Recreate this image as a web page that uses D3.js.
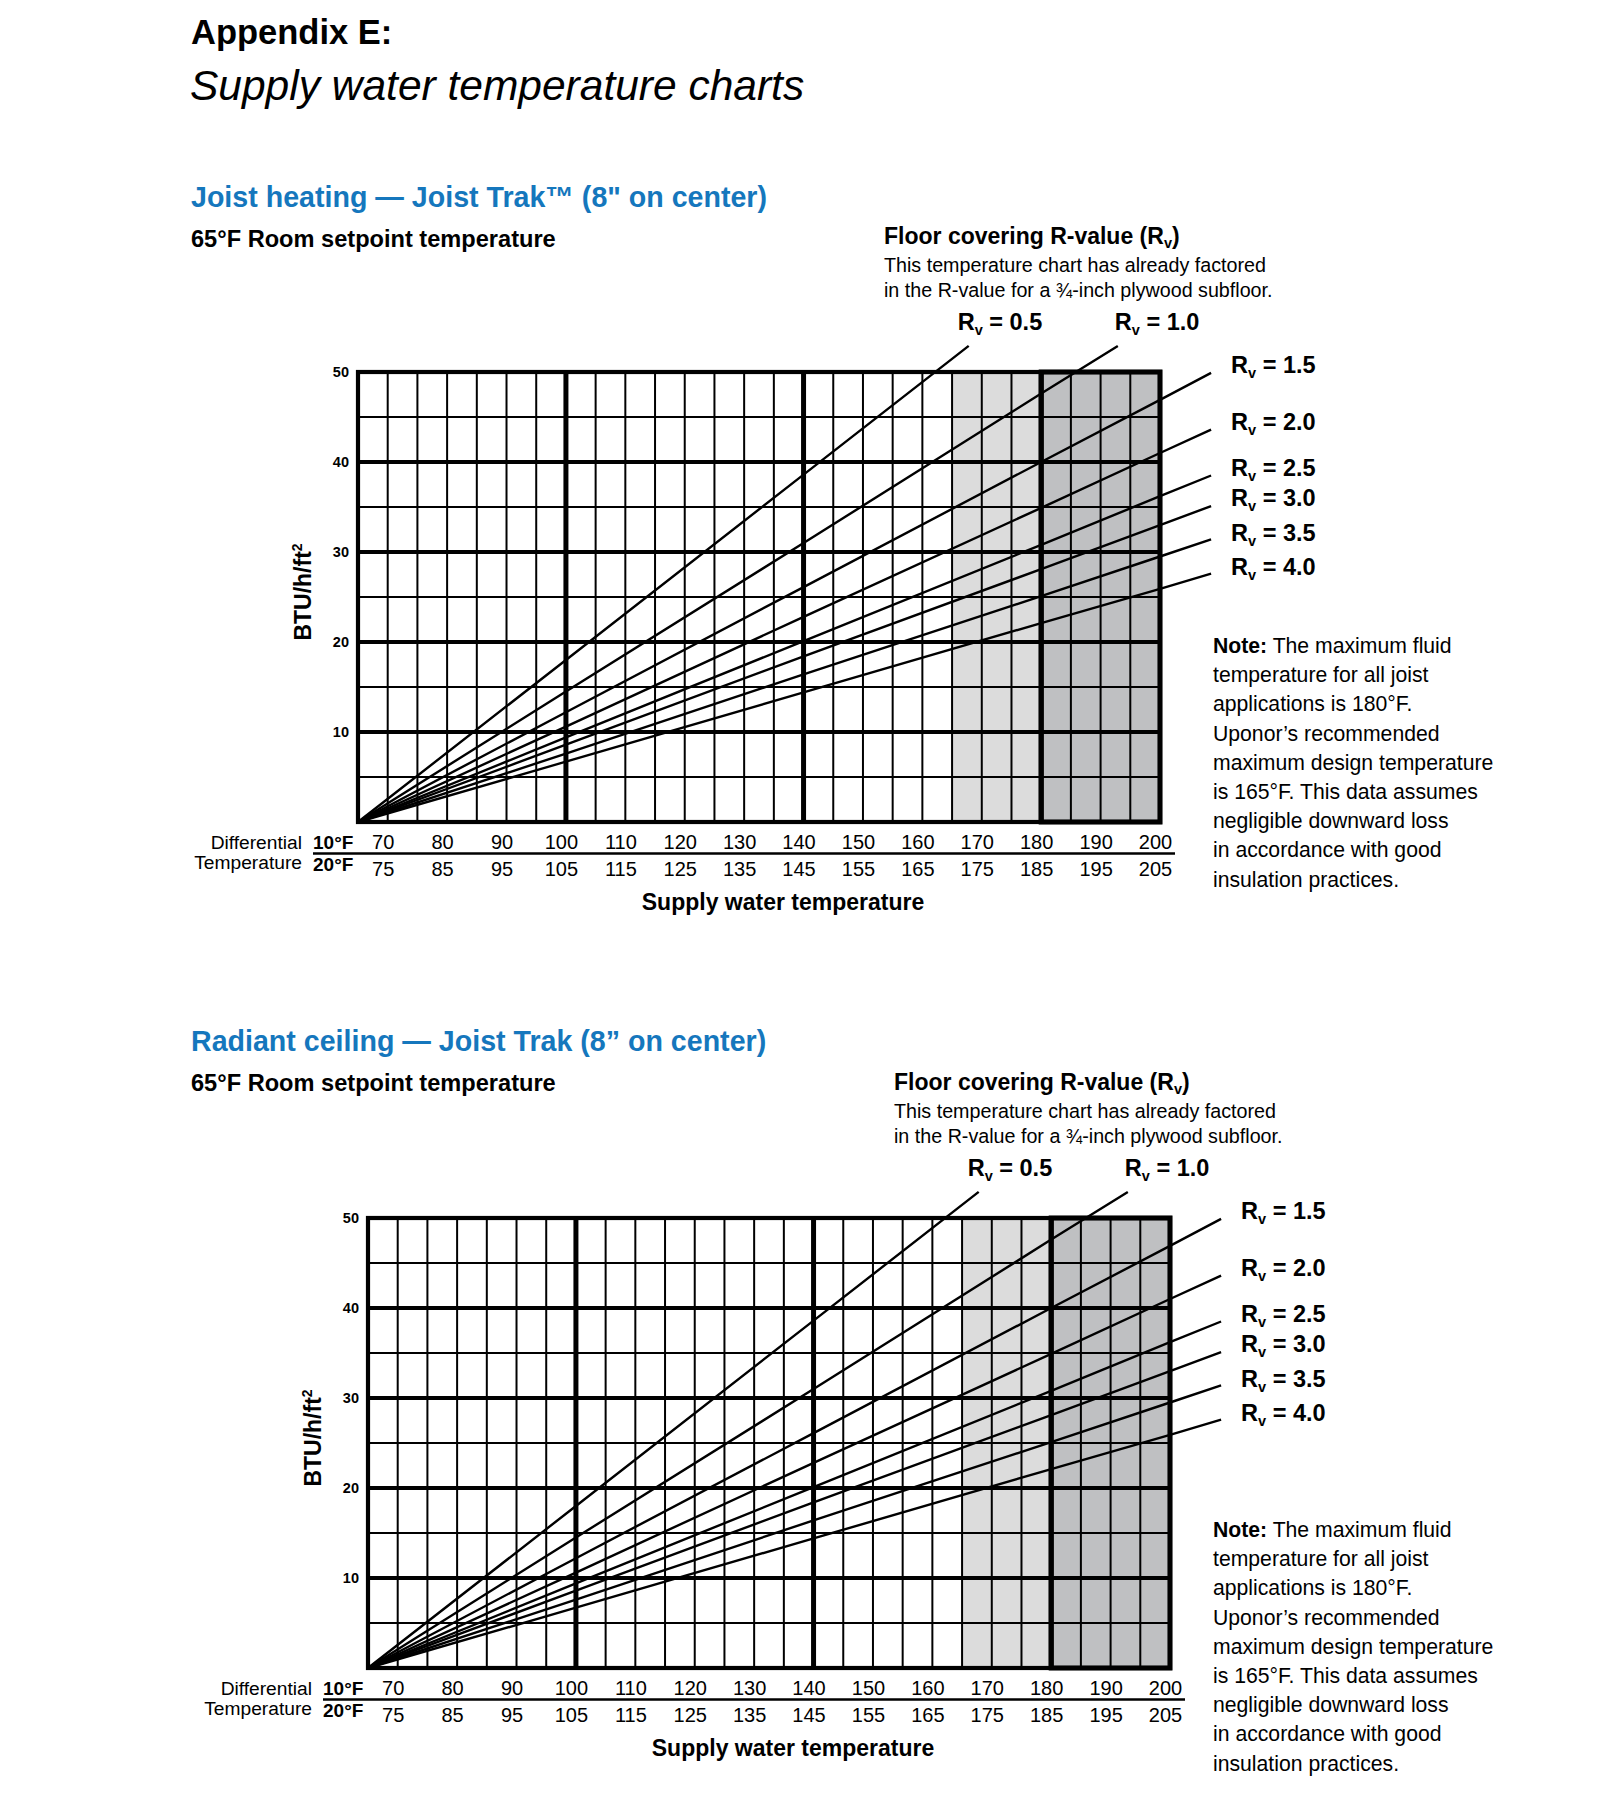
<!DOCTYPE html>
<html>
<head>
<meta charset="utf-8">
<script src="https://cdn.jsdelivr.net/npm/d3@7"></script>
<style>
  body { margin: 0; background: #fff; }
  svg { display: block; font-family: "Liberation Sans", Arial, Helvetica, sans-serif; }
</style>
</head>
<body>
<svg id="page" width="1623" height="1803"></svg>
<script>
// ---- data ----
// supply water temperature (10°F differential) vs BTU/h/ft2
const xDomain = [65, 200];
const yDomain = [0, 50];
const topTicks = [70, 80, 90, 100, 110, 120, 130, 140, 150, 160, 170, 180, 190, 200];    // 10°F
const bottomTicks = [75, 85, 95, 105, 115, 125, 135, 145, 155, 165, 175, 185, 195, 205]; // 20°F
const yTicks = [10, 20, 30, 40, 50];
const rvLabels = ["0.5", "1.0", "1.5", "2.0", "2.5", "3.0", "3.5", "4.0"];

// each line: [supply temp, BTU/h/ft2]; last point is the end of the leader line
const rv05 = [[65, 0], [100, 18.0], [140, 38.6], [167.8, 52.9]];
const rv10 = [[65, 0], [100, 14.5], [140, 31.0], [180, 47.6], [192.9, 52.9]];
const rv15 = [[65, 0], [100, 12.2], [140, 26.1], [180, 40.0], [200, 46.9], [208.6, 49.9]];
const rv20 = [[65, 0], [100, 10.6], [140, 22.8], [180, 34.9], [200, 41.0], [208.6, 43.6]];
const rv25 = [[65, 0], [100, 9.4], [140, 20.1], [180, 30.8], [200, 36.2], [208.6, 38.5]];
const rv30 = [[65, 0], [100, 8.6], [140, 18.4], [180, 28.1], [200, 33.0], [208.6, 35.1]];
const rv35 = [[65, 0], [100, 7.6], [140, 16.4], [180, 25.1], [200, 29.5], [208.6, 31.4]];
const rv40 = [[65, 0], [100, 6.7], [140, 14.4], [180, 22.1], [200, 25.9], [208.6, 27.6]];
const series = [rv05, rv10, rv15, rv20, rv25, rv30, rv35, rv40];

const lightBand = [165, 180];
const darkBand = [180, 200];

const chartTitles = [
  "Joist heating \u2014 Joist Trak\u2122 (8\" on center)",
  "Radiant ceiling \u2014 Joist Trak (8\u201d on center)"
];
const noteLines = [
  "temperature for all joist",
  "applications is 180\u00b0F.",
  "Uponor\u2019s recommended",
  "maximum design temperature",
  "is 165\u00b0F. This data assumes",
  "negligible downward loss",
  "in accordance with good",
  "insulation practices."
];

// ---- layout ----
const svg = d3.select("#page");
const blue = "#1577bd";
// label placement relative to leader end [dx, dy]
const labelOffsets = [[-11, -16], [-3, -16], [20, 0], [20, 0], [20, 0], [20, 0], [20, 2], [20, 1]];

svg.append("rect").attr("width", 1623).attr("height", 1803).attr("fill", "#fff");

svg.append("text").attr("x", 191).attr("y", 44)
  .attr("font-size", 34.5).attr("font-weight", "bold").text("Appendix E:");
svg.append("text").attr("x", 190).attr("y", 100)
  .attr("font-size", 42.5).attr("font-style", "italic").text("Supply water temperature charts");

function drawChart(idx, dx, dy, titleY, noteY) {
  // left titles
  svg.append("text").attr("x", 191).attr("y", titleY)
    .attr("font-size", 28.6).attr("font-weight", "bold").attr("fill", blue)
    .text(chartTitles[idx]);
  svg.append("text").attr("x", 191).attr("y", titleY + 40)
    .attr("font-size", 23.6).attr("font-weight", "bold")
    .text("65\u00b0F Room setpoint temperature");

  // note
  const note = svg.append("text").attr("x", 1213).attr("y", noteY).attr("font-size", 21.2);
  note.append("tspan").attr("font-weight", "bold").text("Note:");
  note.append("tspan").text(" The maximum fluid");
  noteLines.forEach((t, i) => {
    svg.append("text").attr("x", 1213).attr("y", noteY + (i + 1) * 29.2)
      .attr("font-size", 21.2).text(t);
  });

  const g = svg.append("g").attr("transform", `translate(${dx},${dy})`);
  const x = d3.scaleLinear().domain(xDomain).range([358, 1160]);
  const y = d3.scaleLinear().domain(yDomain).range([822, 372]);

  // header on the right
  const hdr = g.append("text").attr("x", 884).attr("y", 244)
    .attr("font-size", 23).attr("font-weight", "bold");
  hdr.append("tspan").text("Floor covering R-value (R");
  hdr.append("tspan").attr("font-size", 14.5).attr("dy", 4).text("v");
  hdr.append("tspan").attr("dy", -4).text(")");
  g.append("text").attr("x", 884).attr("y", 271.5).attr("font-size", 19.7)
    .text("This temperature chart has already factored");
  g.append("text").attr("x", 884).attr("y", 296.5).attr("font-size", 19.7)
    .text("in the R-value for a \u00be-inch plywood subfloor.");

  // shaded bands
  g.append("rect").attr("x", x(lightBand[0])).attr("y", y(50))
    .attr("width", x(lightBand[1]) - x(lightBand[0])).attr("height", y(0) - y(50))
    .attr("fill", "#dcdcdc");
  g.append("rect").attr("x", x(darkBand[0])).attr("y", y(50))
    .attr("width", x(darkBand[1]) - x(darkBand[0])).attr("height", y(0) - y(50))
    .attr("fill", "#bfc0c2");

  // grid
  const vLines = d3.range(70, 200, 5);
  const hLines = d3.range(5, 50, 5);
  const thickX = [100, 140, 180];
  g.selectAll("line.vx").data(vLines).join("line")
    .attr("x1", d => x(d)).attr("x2", d => x(d))
    .attr("y1", y(50)).attr("y2", y(0))
    .attr("stroke", "#000")
    .attr("stroke-width", d => thickX.includes(d) ? 5 : 2);
  g.selectAll("line.hy").data(hLines).join("line")
    .attr("x1", x(65)).attr("x2", x(200))
    .attr("y1", d => y(d)).attr("y2", d => y(d))
    .attr("stroke", "#000")
    .attr("stroke-width", d => d % 10 === 0 ? 4.2 : 2.2);
  g.append("rect").attr("x", x(65)).attr("y", y(50))
    .attr("width", x(200) - x(65)).attr("height", y(0) - y(50))
    .attr("fill", "none").attr("stroke", "#000").attr("stroke-width", 4.2);
  g.append("rect").attr("x", x(darkBand[0])).attr("y", y(50))
    .attr("width", x(darkBand[1]) - x(darkBand[0])).attr("height", y(0) - y(50))
    .attr("fill", "none").attr("stroke", "#000").attr("stroke-width", 5);

  // R-value lines (with leaders)
  const line = d3.line().x(d => x(d[0])).y(d => y(d[1]));
  g.selectAll("path.rv").data(series).join("path")
    .attr("d", line).attr("fill", "none")
    .attr("stroke", "#000").attr("stroke-width", 2.4);

  series.forEach((s, i) => {
    const end = s[s.length - 1];
    const t = g.append("text")
      .attr("x", x(end[0]) + labelOffsets[i][0])
      .attr("y", y(end[1]) + labelOffsets[i][1])
      .attr("font-size", 23.5).attr("font-weight", "bold");
    t.append("tspan").text("R");
    t.append("tspan").attr("font-size", 14.5).attr("dy", 5).text("v");
    t.append("tspan").attr("dy", -5).text(" = " + rvLabels[i]);
  });

  // axes
  const yAxis = g.append("g").attr("transform", `translate(${x(65)},0)`)
    .call(d3.axisLeft(y).tickValues(yTicks).tickSize(0).tickPadding(9));
  yAxis.select(".domain").remove();
  yAxis.selectAll("text").attr("font-size", 14.5).attr("font-weight", "bold")
    .attr("font-family", null).attr("fill", "#000");

  const top = g.append("g").attr("transform", `translate(-5,${y(0)})`)
    .call(d3.axisBottom(x).tickValues(topTicks).tickSize(0).tickPadding(12.5));
  top.select(".domain").remove();
  top.selectAll("text").attr("font-size", 20).attr("font-family", null).attr("fill", "#000");

  const bottom = g.append("g").attr("transform", `translate(-5,${y(0)})`)
    .call(d3.axisBottom(x).tickValues(topTicks).tickSize(0).tickPadding(40)
      .tickFormat((d, i) => bottomTicks[i]));
  bottom.select(".domain").remove();
  bottom.selectAll("text").attr("font-size", 20).attr("font-family", null).attr("fill", "#000");

  // differential labels
  g.append("line").attr("x1", 313).attr("x2", 1175).attr("y1", 853.5).attr("y2", 853.5)
    .attr("stroke", "#000").attr("stroke-width", 2.5);
  g.append("text").attr("x", 302).attr("y", 848.5).attr("text-anchor", "end")
    .attr("font-size", 19.2).text("Differential");
  g.append("text").attr("x", 302).attr("y", 869).attr("text-anchor", "end")
    .attr("font-size", 19.2).text("Temperature");
  g.append("text").attr("x", 313).attr("y", 848.5)
    .attr("font-size", 19).attr("font-weight", "bold").text("10\u00b0F");
  g.append("text").attr("x", 313).attr("y", 871)
    .attr("font-size", 19).attr("font-weight", "bold").text("20\u00b0F");

  g.append("text").attr("x", 783).attr("y", 910).attr("text-anchor", "middle")
    .attr("font-size", 23).attr("font-weight", "bold").text("Supply water temperature");

  const yl = g.append("text").attr("transform", "translate(311,592) rotate(-90)")
    .attr("text-anchor", "middle").attr("font-size", 23).attr("font-weight", "bold");
  yl.append("tspan").text("BTU/h/ft");
  yl.append("tspan").attr("font-size", 14).attr("dy", -9).text("2");
}

drawChart(0, 0, 0, 207, 653);
drawChart(1, 10, 846, 1051, 1537);
</script>
</body>
</html>
